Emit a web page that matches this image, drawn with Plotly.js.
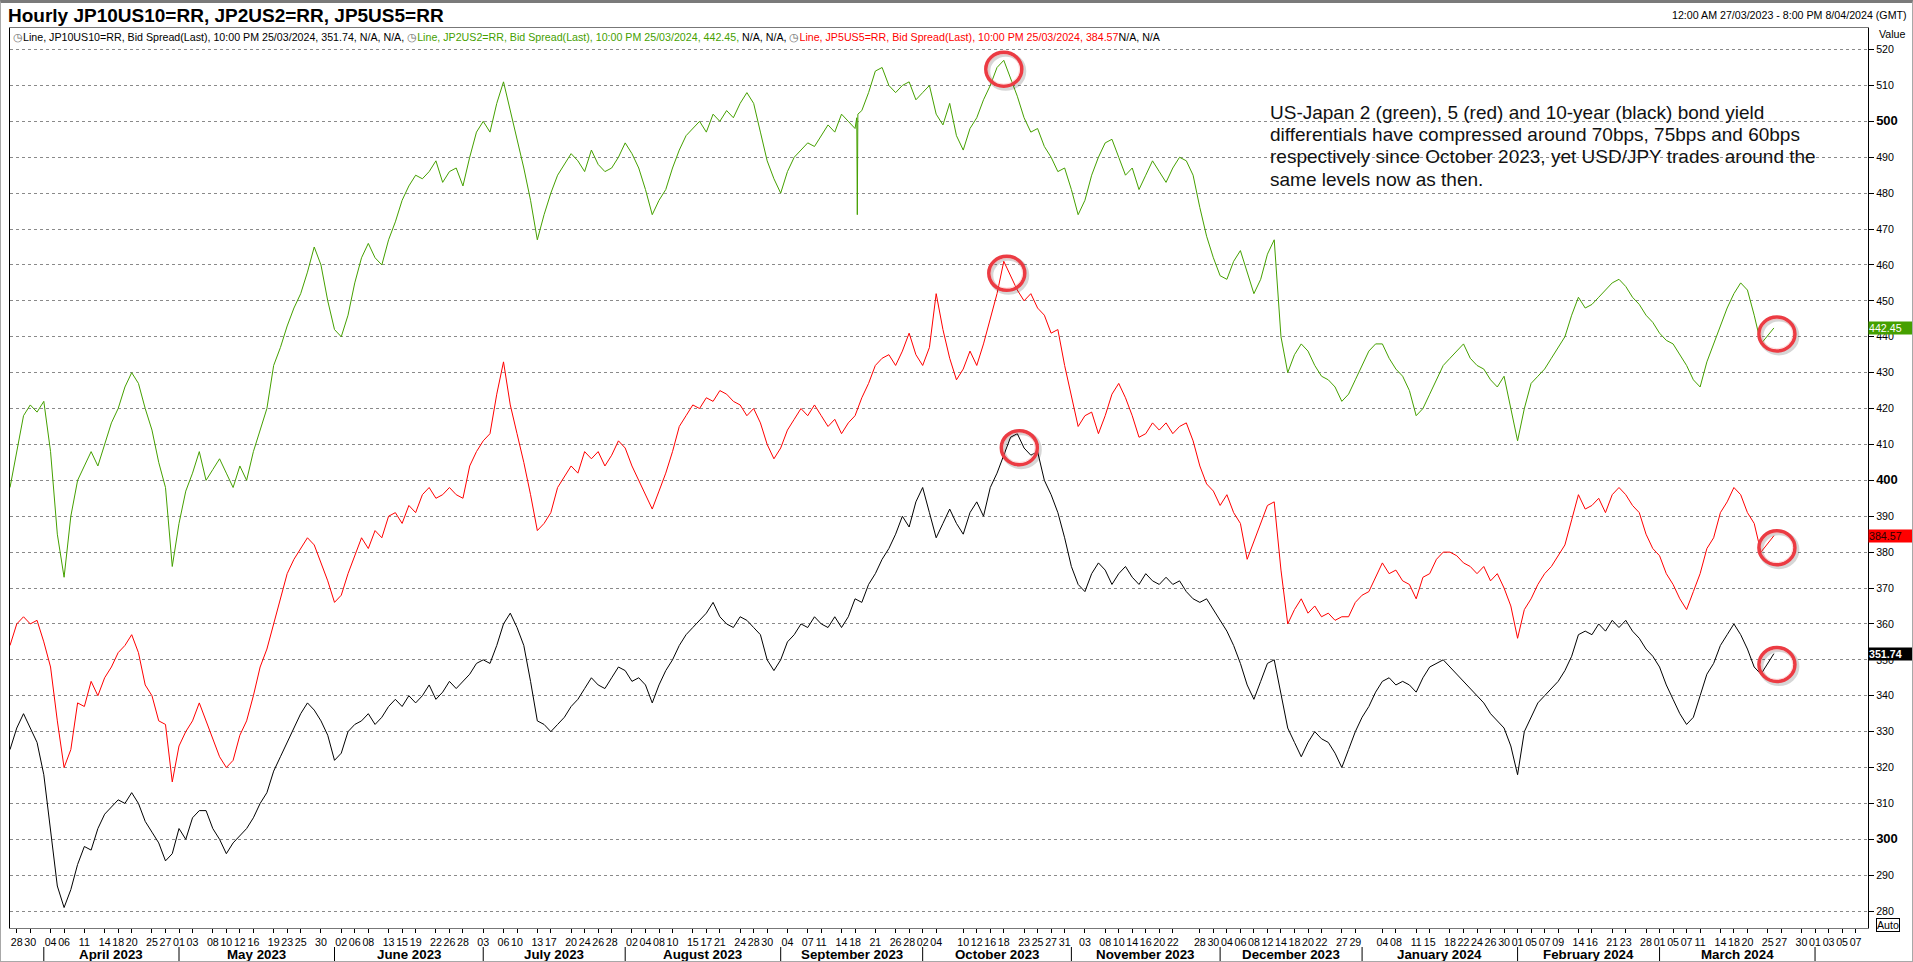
<!DOCTYPE html>
<html><head><meta charset="utf-8">
<script src="https://cdn.plot.ly/plotly-3.0.1.min.js"></script>
<style>
html,body{margin:0;padding:0;background:#fff;}
#wrap{position:relative;width:1913px;height:962px;overflow:hidden;}
#chart{width:1913px;height:962px;}
#frame{position:absolute;left:0;top:0;width:1913px;height:962px;box-sizing:border-box;border:1px solid #a8a8a8;border-top:3px solid #7a7a7a;pointer-events:none;}
</style></head><body>
<div id="wrap"><div id="chart"></div><div id="frame"></div></div>
<script>
// ---------------- DATA (one value per trading day from 27/03/2023, last = 25/03/2024 10 PM) ----------------
const firstDay = '2023-03-27';
const lastStamp = '2024-03-25 22:00';

const jp2us2 = [
398,408,418,421,419,422,408,385,373,390,
400,404,408,404,410,416,420,426,430,427,
420,414,405,398,376,388,397,402,408,400,
403,406,402,398,404,400,408,414,420,432,
437,443,448,452,458,465,460,450,442,440,
446,455,462,466,462,460,467,472,478,482,
485,484,486,489,483,486,487,482,490,497,
500,497,505,511,503,495,487,478,467,474,
480,485,488,491,489,486,492,488,486,487,
490,494,491,487,481,474,478,481,487,492,
496,498,500,497,502,500,503,501,505,508,
505,497,489,484,480,486,490,492,494,493,
496,499,497,502,500,498,503,508,514,515,
510,508,510,511,506,508,510,502,499,505,
496,492,498,501,506,510,515,517,512,507,
501,497,498,493,490,486,487,481,474,478,
485,490,494,495,490,485,487,481,485,489,
486,483,487,490,489,485,476,468,462,457,
456,461,464,458,452,456,463,467,440,430,
435,438,436,432,429,428,426,422,424,428,
432,436,438,438,434,431,429,425,418,420,
424,428,432,434,436,438,434,432,431,428,
426,429,420,411,420,427,429,431,434,437,
440,446,451,448,449,451,453,455,456,454,
451,449,446,444,441,439,438,435,432,428,
426,433,438,443,448,452,455,453,446,438,
442.45];

// one intraday spike on the 2-year line
const jp2us2SpikeTimes = ['2023-09-18 06:00','2023-09-18 08:00','2023-09-18 10:00'];
const jp2us2SpikeValues = [501, 474, 502];

const jp5us5 = [
354,360,362,360,361,355,348,333,320,325,
338,337,344,340,345,348,352,354,357,352,
343,340,333,332,316,326,330,333,338,333,
328,323,320,322,329,333,340,348,353,360,
367,374,378,381,384,382,377,372,366,368,
374,379,384,381,386,384,390,391,388,393,
391,396,398,395,396,398,396,395,404,408,
411,413,424,433,421,413,405,396,386,388,
391,398,401,404,402,408,406,408,404,407,
411,409,404,400,396,392,397,402,408,415,
418,421,420,423,422,425,424,422,421,418,
420,416,410,406,409,414,417,420,418,421,
418,415,417,413,416,418,423,427,432,434,
435,432,436,441,435,432,437,452,442,434,
428,431,436,432,438,445,452,461,457,453,
450,452,448,446,441,442,432,423,415,418,
419,413,418,424,427,423,418,412,413,416,
414,416,413,415,416,411,404,399,397,393,
396,391,388,378,383,388,393,394,375,360,
364,367,363,365,362,363,361,362,362,366,
368,369,373,377,374,375,372,371,367,373,
374,378,380,380,379,377,376,374,376,372,
374,370,365,356,364,367,371,374,376,379,
382,389,396,392,393,395,391,396,398,396,
393,391,385,381,379,374,371,367,364,369,
374,381,384,391,394,398,396,391,388,380,
384.57];

const jp10us10 = [
325,331,335,331,327,318,303,287,281,286,
293,298,297,303,307,309,311,310,313,310,
305,302,299,294,296,303,300,306,308,308,
303,300,296,299,301,303,306,310,313,319,
323,327,331,335,338,336,333,329,322,324,
330,332,333,335,332,334,337,339,337,340,
338,340,343,339,341,344,342,344,346,349,
350,349,354,360,363,359,354,344,333,332,
330,332,334,337,339,342,345,343,342,345,
348,347,344,345,343,338,343,347,350,354,
357,359,361,363,366,362,360,359,362,361,
359,357,350,347,350,355,357,360,359,362,
360,359,362,359,362,367,366,371,374,378,
381,385,390,387,394,398,391,384,388,392,
388,385,391,394,390,398,402,407,412,413,
409,407,408,400,396,391,384,376,371,369,
374,377,375,371,374,376,373,371,374,372,
371,373,371,372,369,367,366,367,364,361,
358,354,349,343,339,344,349,350,340,331,
327,323,327,330,328,327,324,320,325,330,
334,337,341,344,345,343,344,343,341,345,
348,349,350,348,346,344,342,340,338,335,
333,331,326,318,330,334,338,340,342,344,
347,351,357,358,357,360,358,361,359,361,
358,356,353,351,348,343,339,335,332,334,
340,346,349,354,357,360,357,353,348,346,
351.74];

// x-axis tick labels (day of month) and month captions
const tickDates = [
'2023-03-28','2023-03-30',
'2023-04-04','2023-04-06','2023-04-11','2023-04-14','2023-04-18','2023-04-20','2023-04-25','2023-04-27',
'2023-05-01','2023-05-03','2023-05-08','2023-05-10','2023-05-12','2023-05-16','2023-05-19','2023-05-23','2023-05-25','2023-05-30',
'2023-06-02','2023-06-06','2023-06-08','2023-06-13','2023-06-15','2023-06-19','2023-06-22','2023-06-26','2023-06-28',
'2023-07-03','2023-07-06','2023-07-10','2023-07-13','2023-07-17','2023-07-20','2023-07-24','2023-07-26','2023-07-28',
'2023-08-02','2023-08-04','2023-08-08','2023-08-10','2023-08-15','2023-08-17','2023-08-21','2023-08-24','2023-08-28','2023-08-30',
'2023-09-04','2023-09-07','2023-09-11','2023-09-14','2023-09-18','2023-09-21','2023-09-26','2023-09-28',
'2023-10-02','2023-10-04','2023-10-10','2023-10-12','2023-10-16','2023-10-18','2023-10-23','2023-10-25','2023-10-27','2023-10-31',
'2023-11-03','2023-11-08','2023-11-10','2023-11-14','2023-11-16','2023-11-20','2023-11-22','2023-11-28','2023-11-30',
'2023-12-04','2023-12-06','2023-12-08','2023-12-12','2023-12-14','2023-12-18','2023-12-20','2023-12-22','2023-12-27','2023-12-29',
'2024-01-04','2024-01-08','2024-01-11','2024-01-15','2024-01-18','2024-01-22','2024-01-24','2024-01-26','2024-01-30',
'2024-02-01','2024-02-05','2024-02-07','2024-02-09','2024-02-14','2024-02-16','2024-02-21','2024-02-23','2024-02-28',
'2024-03-01','2024-03-05','2024-03-07','2024-03-11','2024-03-14','2024-03-18','2024-03-20','2024-03-25','2024-03-27','2024-03-30',
'2024-04-01','2024-04-03','2024-04-05','2024-04-07'];
const monthStarts = ['2023-04-03','2023-05-01','2023-06-01','2023-07-03','2023-08-01','2023-09-01','2023-10-02',
'2023-11-01','2023-12-01','2024-01-01','2024-02-01','2024-03-01','2024-04-01'];
const monthNames = ['April 2023','May 2023','June 2023','July 2023','August 2023','September 2023','October 2023',
'November 2023','December 2023','January 2024','February 2024','March 2024'];

// ---------------- helpers ----------------
const DAY = 86400000;
function iso(t){ return new Date(t).toISOString().slice(0,16).replace('T',' '); }
const tradingDays = [];
const weekendBreaks = [];
(function(){
  let t = Date.parse(firstDay+'T00:00:00Z');
  const stop = Date.parse('2024-03-25T00:00:00Z');
  while (t <= stop){
    const wd = new Date(t).getUTCDay();
    const s = new Date(t).toISOString().slice(0,10);
    if (wd===0 || wd===6) weekendBreaks.push(s); else tradingDays.push(s);
    t += DAY;
  }
})();
const lastIdx = tradingDays.length - 1;
function idxOf(dateStr){
  const i = tradingDays.indexOf(dateStr);
  if (i >= 0) return i;
  return lastIdx + (Date.parse(dateStr+'T00:00:00Z') - Date.parse(tradingDays[lastIdx]+'T00:00:00Z'))/DAY;
}
function idxToStamp(d){
  const b = Math.floor(d), f = d - b;
  let t = b <= lastIdx ? Date.parse(tradingDays[b]+'T00:00:00Z') : Date.parse(tradingDays[lastIdx]+'T00:00:00Z') + (b-lastIdx)*DAY;
  return iso(t + f*DAY);
}
function seriesX(vals){ return vals.map((v,i)=> i < vals.length-1 ? tradingDays[i] : lastStamp); }
function mergeSorted(xs, ys, ex, ey){
  const pts = xs.map((x,i)=>[x,ys[i]]).concat(ex.map((x,i)=>[x,ey[i]]));
  pts.sort((a,b)=> a[0] < b[0] ? -1 : a[0] > b[0] ? 1 : 0);
  return [pts.map(p=>p[0]), pts.map(p=>p[1])];
}

const FONT = 'Liberation Sans, Arial, sans-serif';
const GREEN = '#45a000', RED = '#ff0000', BLACK = '#000000';

const [xG, yG] = mergeSorted(seriesX(jp2us2), jp2us2, jp2us2SpikeTimes, jp2us2SpikeValues);
const xR = seriesX(jp5us5), xB = seriesX(jp10us10);

const traces = [
  {x: xB, y: jp10us10, type:'scatter', mode:'lines', line:{color:BLACK, width:1}, name:'JP10US10=RR'},
  {x: xR, y: jp5us5, type:'scatter', mode:'lines', line:{color:RED, width:1}, name:'JP5US5=RR'},
  {x: xG, y: yG, type:'scatter', mode:'lines', line:{color:GREEN, width:1}, name:'JP2US2=RR'}
];

// ---------------- layout geometry ----------------
const W = 1913, H = 962;
const M = {l:10, r:45, t:28, b:34};
const PW = W - M.l - M.r, PH = H - M.t - M.b;
const px2paperX = x => (x - M.l)/PW;
const px2paperY = y => (H - M.b - y)/PH;

const yTicks = [], yText = [];
for (let v = 280; v <= 520; v += 10){
  yTicks.push(v);
  yText.push(v % 100 === 0 ? '<b><span style="font-size:13px">'+v+'</span></b>' : String(v));
}
const xText = tickDates.map(d => d.slice(8,10));

const ann = [];
const lastG = jp2us2[jp2us2.length-1], lastR = jp5us5[jp5us5.length-1], lastB = jp10us10[jp10us10.length-1];
const clock = '<span style="color:#6a6a6a">◷</span>';
ann.push({xref:'paper', yref:'paper', x:px2paperX(11), y:px2paperY(37), xanchor:'left', yanchor:'middle', showarrow:false,
  font:{family:FONT, size:10.67, color:'#000'},
  text: clock+'Line, JP10US10=RR, Bid Spread(Last), 10:00 PM 25/03/2024, '+lastB.toFixed(2)+', N/A, N/A, '+
        clock+'<span style="color:'+GREEN+'">Line, JP2US2=RR, Bid Spread(Last), 10:00 PM 25/03/2024, '+lastG.toFixed(2)+',</span> N/A, N/A, '+
        clock+'<span style="color:'+RED+'">Line, JP5US5=RR, Bid Spread(Last), 10:00 PM 25/03/2024, '+lastR.toFixed(2)+'</span>N/A, N/A'});
ann.push({xref:'paper', yref:'paper', x:px2paperX(1909), y:px2paperY(15), xanchor:'right', yanchor:'middle', showarrow:false,
  font:{family:FONT, size:10.67, color:'#000'}, text:'12:00 AM 27/03/2023 - 8:00 PM 8/04/2024 (GMT)'});
ann.push({xref:'paper', yref:'paper', x:px2paperX(1877), y:px2paperY(34), xanchor:'left', yanchor:'middle', showarrow:false,
  font:{family:FONT, size:10.67, color:'#000'}, text:'Value'});
ann.push({xref:'paper', yref:'paper', x:px2paperX(1876), y:px2paperY(925), xanchor:'left', yanchor:'middle', showarrow:false,
  font:{family:FONT, size:10.67, color:'#000'}, text:'Auto', bordercolor:'#000', borderwidth:1, borderpad:0});

const note = ['US-Japan 2 (green), 5 (red) and 10-year (black) bond yield',
  'differentials have compressed around 70bps, 75bps and 60bps',
  'respectively since October 2023, yet USD/JPY trades around the',
  'same levels now as then.'];
note.forEach((s,i)=> ann.push({xref:'paper', yref:'paper', x:px2paperX(1268), y:px2paperY(112 + i*22.5), xanchor:'left', yanchor:'middle',
  showarrow:false, font:{family:FONT, size:19, color:'#111'}, text:s}));

[[lastG, GREEN, '#ffffff', false],[lastR, RED, '#2a0000', false],[lastB, BLACK, '#ffffff', true]].forEach(([v,bg,fc,b])=>{
  ann.push({xref:'paper', yref:'y', x:1, y:v, xanchor:'left', yanchor:'middle', showarrow:false, bgcolor:bg, width:43, height:12,
    align:'left', borderpad:0, font:{family:FONT, size:10.67, color:fc}, text: b ? '<b>'+v.toFixed(2)+'</b>' : v.toFixed(2)});
});

monthNames.forEach((m,i)=>{
  const mid = (idxOf(monthStarts[i]) + idxOf(monthStarts[i+1]))/2;
  ann.push({xref:'x', yref:'paper', x: idxToStamp(mid), y: px2paperY(954), xanchor:'center', yanchor:'middle', showarrow:false,
    font:{family:FONT, size:13.33, color:'#000'}, text:'<b>'+m+'</b>'});
});

const shapes = monthStarts.map(d => ({type:'line', xref:'x', yref:'paper', x0:d, x1:d, y0:px2paperY(947), y1:px2paperY(962),
  line:{color:'#000', width:1}}));

function argmax(a){ let k=0; a.forEach((v,i)=>{ if(v>a[k]) k=i; }); return k; }
function ring(xa, ya, dx, dy){
  const rx = 18, ry = 17;
  return [
    {type:'circle', xref:'x', yref:'y', xsizemode:'pixel', ysizemode:'pixel', xanchor:xa, yanchor:ya,
     x0:dx-rx+2, x1:dx+rx+2, y0:dy-ry-2, y1:dy+ry-2, line:{color:'rgba(0,0,0,0.16)', width:5}},
    {type:'circle', xref:'x', yref:'y', xsizemode:'pixel', ysizemode:'pixel', xanchor:xa, yanchor:ya,
     x0:dx-rx, x1:dx+rx, y0:dy-ry, y1:dy+ry, line:{color:'#ec3b43', width:3.5}},
    {type:'circle', xref:'x', yref:'y', xsizemode:'pixel', ysizemode:'pixel', xanchor:xa, yanchor:ya,
     x0:dx-rx+2.2, x1:dx+rx-2.2, y0:dy-ry+2.2, y1:dy+ry-2.2, line:{color:'rgba(255,170,170,0.45)', width:1}}
  ];
}
const pG = argmax(jp2us2), pR = argmax(jp5us5), pB = argmax(jp10us10);
shapes.push(...ring(tradingDays[pG], jp2us2[pG], 0, -9));
shapes.push(...ring(tradingDays[pR], jp5us5[pR], 3, -12));
shapes.push(...ring(tradingDays[pB], jp10us10[pB], 2, -14));
shapes.push(...ring(lastStamp, lastG, 3, -6));
shapes.push(...ring(lastStamp, lastR, 3, -12));
shapes.push(...ring(lastStamp, lastB, 3, -11));

const layout = {
  width: W, height: H, margin: M, paper_bgcolor:'#fff', plot_bgcolor:'#fff', showlegend:false,
  font:{family:FONT, size:10.67, color:'#000'},
  title:{text:'<b>Hourly JP10US10=RR, JP2US2=RR, JP5US5=RR</b>', font:{family:FONT, size:19, color:'#000'},
    xref:'container', yref:'container', x:8/W, xanchor:'left', y:1-15/H, yanchor:'middle'},
  xaxis:{type:'date', range:['2023-03-27 00:00', '2024-04-08 20:00'],
    rangebreaks:[{values: weekendBreaks, dvalue: DAY}],
    tickmode:'array', tickvals: tickDates, ticktext: xText, tickangle:0,
    ticks:'outside', ticklen:4, tickcolor:'#000', tickfont:{family:FONT, size:10.67, color:'#000'},
    showgrid:false, zeroline:false, showline:true, linecolor:'#777', linewidth:1, mirror:true, fixedrange:true},
  yaxis:{side:'right', range:[275.3, 526.0], tickmode:'array', tickvals:yTicks, ticktext:yText,
    ticks:'outside', ticklen:5, tickcolor:'#000', tickfont:{family:FONT, size:10.67, color:'#000'},
    showgrid:true, gridcolor:'#8a8a8a', gridwidth:1, griddash:'3px,3px', zeroline:false,
    showline:true, linecolor:'#000', linewidth:1, mirror:true, fixedrange:true},
  annotations: ann, shapes: shapes
};

Plotly.newPlot('chart', traces, layout, {staticPlot:true, displayModeBar:false});
</script>
</body></html>
